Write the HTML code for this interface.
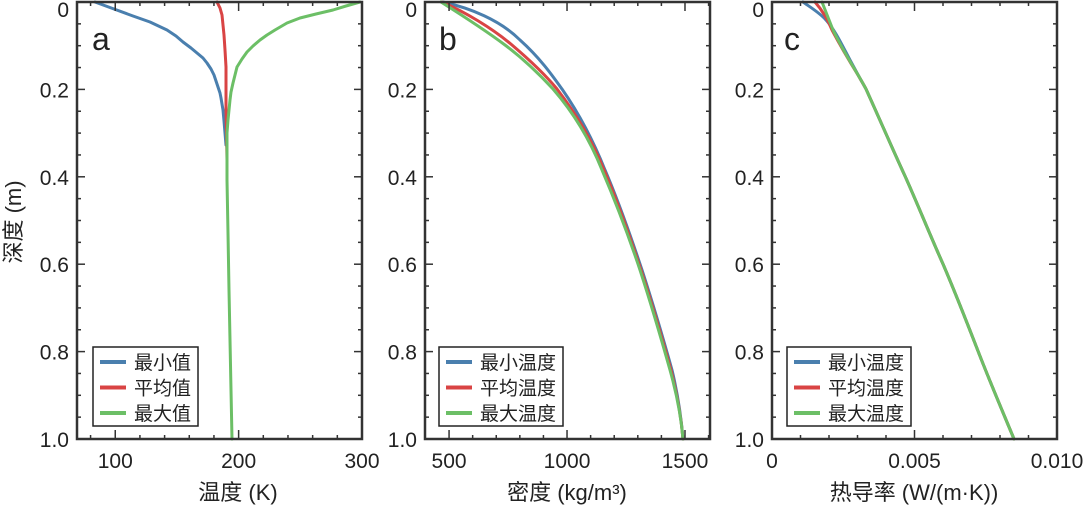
<!DOCTYPE html>
<html><head><meta charset="utf-8"><style>
body{margin:0;background:#fff}
svg{display:block}
text{font-family:"Liberation Sans","Noto Sans CJK SC",sans-serif;fill:#222}
</style></head><body>
<svg id="s" width="1084" height="506" viewBox="0 0 1084 506">
<g fill="none" stroke-width="3" stroke-linejoin="round" stroke-linecap="round">
<polyline stroke="#4a7fae" points="95,2 114,9 133,16 150,22 167,30 176,36 183,42 191,48 197,53 203,58 207,63 211,69 214,75 216,81 218,87 220,93 221,98 222,104 223,110 224,121 225,133 226,145"/>
<polyline stroke="#d94444" points="217,2 220,8 222,15 223,25 224,35 225,50 226,67 226,90 226,110 227,160"/>
<polyline stroke="#6cbf66" points="360,2 346,6 333,10 316,14 300,18 287,23 275,30 267,35 260,40 253,46 247,52 242,59 237,67 235,75 233,83 231,92 230,100 229,110 228,120 227,133 227,180 228,233 229,290 230,340 231,390 232,439"/>
<path stroke="#4a7fae" d="M443,2 C470,8 500,20 520,40 C540,58 552,75 562,89 C580,115 593,140 605,170 C620,205 632,240 642,270 C655,310 665,345 672,370 C678,395 681,415 683,439"/>
<path stroke="#d94444" d="M442,2 C465,12 492,28 512,45 C532,62 548,78 557,89 C577,115 592,140 604,170 C619,205 631,240 641,270 C654,310 664,345 671,370 C677,395 681,415 683,439"/>
<path stroke="#6cbf66" d="M441,2 C460,14 485,30 505,45 C525,60 540,75 553,89 C573,112 590,140 602,170 C617,205 630,240 640,270 C653,310 663,345 670,370 C677,395 681,415 683,439"/>
<path stroke="#4a7fae" d="M803,2 C810,7 820,13 826,20 C835,30 842,45 850,60 C858,75 862,82 866,89 C880,120 893,150 905,176 C918,205 930,235 943,264 C955,292 966,320 978,351 C990,382 1002,410 1014,439"/>
<path stroke="#d94444" d="M815,2 C822,10 828,20 832,30 C840,45 850,62 858,75 C862,82 864,85 866,89 C880,120 893,150 905,176 C918,205 930,235 943,264 C955,292 966,320 978,351 C990,382 1002,410 1014,439"/>
<path stroke="#6cbf66" d="M822,2 C826,12 829,20 833,30 C845,55 857,72 866,89 C880,120 893,150 905,176 C918,205 930,235 943,264 C955,292 966,320 978,351 C990,382 1002,410 1014,439"/>
</g>
<g id="ax"></g>
<text x="92" y="50" font-size="32">a</text>
<text x="439" y="50" font-size="32">b</text>
<text x="784" y="50" font-size="32">c</text>
<text transform="translate(21,222) rotate(-90)" font-size="22" text-anchor="middle">深度 (m)</text>
<text x="238" y="500" font-size="22" text-anchor="middle">温度 (K)</text>
<text x="567" y="500" font-size="22" text-anchor="middle">密度 (kg/m³)</text>
<text x="914" y="500" font-size="22" text-anchor="middle">热导率 (W/(m·K))</text>
</svg>
<script>
(function(){
var g=document.getElementById('ax'),h='';
function L(x1,y1,x2,y2,w,c){h+='<line x1="'+x1+'" y1="'+y1+'" x2="'+x2+'" y2="'+y2+'" stroke="'+(c||'#333')+'" stroke-width="'+(w||1.5)+'"/>';}
function T(x,y,s,a,fs){h+='<text x="'+x+'" y="'+y+'" font-size="'+(fs||21)+'" text-anchor="'+a+'">'+s+'</text>';}
var P=[{l:77,r:362,x0:69,x1:300,maj:[100,200,300],lab:['100','200','300'],mi:20,leg:[93,198],names:['最小值','平均值','最大值']},
{l:425,r:710,x0:398,x1:1606,maj:[500,1000,1500],lab:['500','1000','1500'],mi:100,leg:[439,563],names:['最小温度','平均温度','最大温度']},
{l:772,r:1057,x0:0,x1:0.01,maj:[0,0.005,0.01],lab:['0','0.005','0.010'],mi:0.001,leg:[787,911],names:['最小温度','平均温度','最大温度']}];
var T0=2,B0=439;
P.forEach(function(p){
 var sx=function(v){return p.l+(v-p.x0)/(p.x1-p.x0)*(p.r-p.l);};
 h+='<rect x="'+p.l+'" y="'+T0+'" width="'+(p.r-p.l)+'" height="'+(B0-T0)+'" fill="none" stroke="#333" stroke-width="2.5"/>';
 for(var i=0;i<=20;i++){var y=T0+(B0-T0)*i/20,len=(i%4==0)?8:4;L(p.l,y,p.l+len,y);L(p.r,y,p.r-len,y);}
 ['0','0.2','0.4','0.6','0.8','1.0'].forEach(function(s,i){T(p.l-8,T0+(B0-T0)*i/5+(i==0?15:8),s,'end');});
 for(var v=Math.ceil(p.x0/p.mi-1e-9)*p.mi;v<=p.x1+1e-9;v+=p.mi){var x=sx(v);if(x<p.l+1||x>p.r-1)continue;var maj=p.maj.some(function(m){return Math.abs(m-v)<p.mi/10;});var len=maj?9:4;L(x,B0,x,B0-len);L(x,T0,x,T0+len);}
 p.maj.forEach(function(m,i){T(sx(m),468,p.lab[i],'middle');});
 var a=p.leg[0],b=p.leg[1];
 h+='<rect x="'+a+'" y="347" width="'+(b-a)+'" height="79" fill="#fff" stroke="#222" stroke-width="1.5"/>';
 var c=['#4a7fae','#d94444','#6cbf66'];
 for(var k=0;k<3;k++){var y=362+k*25.5;L(a+7,y,a+33,y,4,c[k]);T(a+41,y+7,p.names[k],'start',19);}
});
g.innerHTML=h;
})();
</script>
</body></html>
